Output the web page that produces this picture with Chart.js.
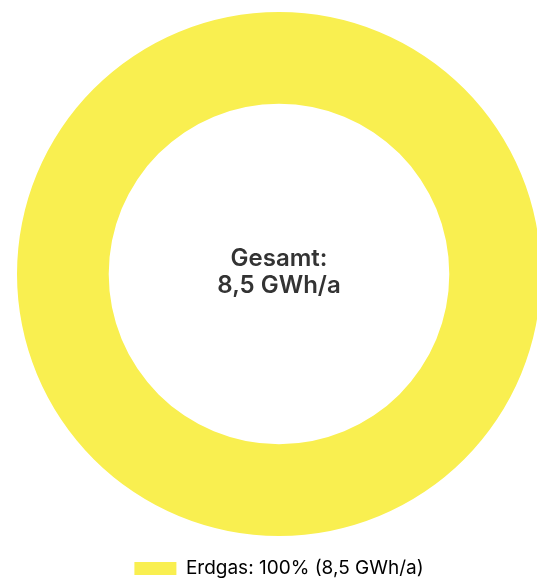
<!DOCTYPE html>
<html lang="de">
<head>
<meta charset="utf-8">
<title>Energieträger</title>
<script src="https://cdn.jsdelivr.net/npm/chart.js@4"></script>
<style>
  html, body { margin: 0; padding: 0; background: #ffffff; overflow: hidden; }
  body { width: 537px; height: 580px; position: relative; }
  #wrap { position: absolute; left: 17px; top: 0; width: 524px; height: 588px; }
</style>
</head>
<body>
<div id="wrap"><canvas id="chart"></canvas></div>
<script>
// Energieträger und Anteile am Gesamtverbrauch
const categories = ['Erdgas'];
const sharePercent = [100];
const energyGWh = [8.5];
const totalLabel = ['Gesamt:', '8,5 GWh/a'];

const colors = ['#f9ef50'];
const fontFamily = "'Inter', 'Noto Sans', sans-serif";

const fmt = v => v.toLocaleString('de-DE', { minimumFractionDigits: 1, maximumFractionDigits: 1 });

// Text in der Mitte des Rings
const centerText = {
  id: 'centerText',
  afterDraw(chart) {
    const { ctx, chartArea } = chart;
    const meta = chart.getDatasetMeta(0);
    const arc = meta.data[0];
    const cx = arc ? arc.x : (chartArea.left + chartArea.right) / 2;
    const cy = arc ? arc.y : (chartArea.top + chartArea.bottom) / 2;
    ctx.save();
    ctx.fillStyle = '#333333';
    ctx.font = '600 24px ' + fontFamily;
    ctx.textAlign = 'center';
    ctx.textBaseline = 'alphabetic';
    ctx.fillText(totalLabel[0], cx, cy - 8);
    ctx.fillText(totalLabel[1], cx, cy + 19);
    ctx.restore();
  }
};

new Chart(document.getElementById('chart'), {
  type: 'doughnut',
  data: {
    labels: categories,
    datasets: [{
      data: sharePercent,
      backgroundColor: colors,
      borderWidth: 0,
      hoverOffset: 0
    }]
  },
  options: {
    responsive: true,
    maintainAspectRatio: false,
    animation: false,
    cutout: '65%',
    layout: { padding: 0 },
    plugins: {
      tooltip: { enabled: false },
      legend: {
        position: 'bottom',
        labels: {
          boxWidth: 42,
          boxHeight: 13,
          padding: 11,
          color: '#333333',
          font: { family: fontFamily, size: 19 },
          generateLabels(chart) {
            return categories.map((c, i) => ({
              text: c + ': ' + sharePercent[i] + '% (' + fmt(energyGWh[i]) + ' GWh/a)',
              fillStyle: colors[i],
              strokeStyle: colors[i],
              lineWidth: 0,
              hidden: false,
              index: i
            }));
          }
        }
      }
    }
  },
  plugins: [centerText]
});
</script>
</body>
</html>
